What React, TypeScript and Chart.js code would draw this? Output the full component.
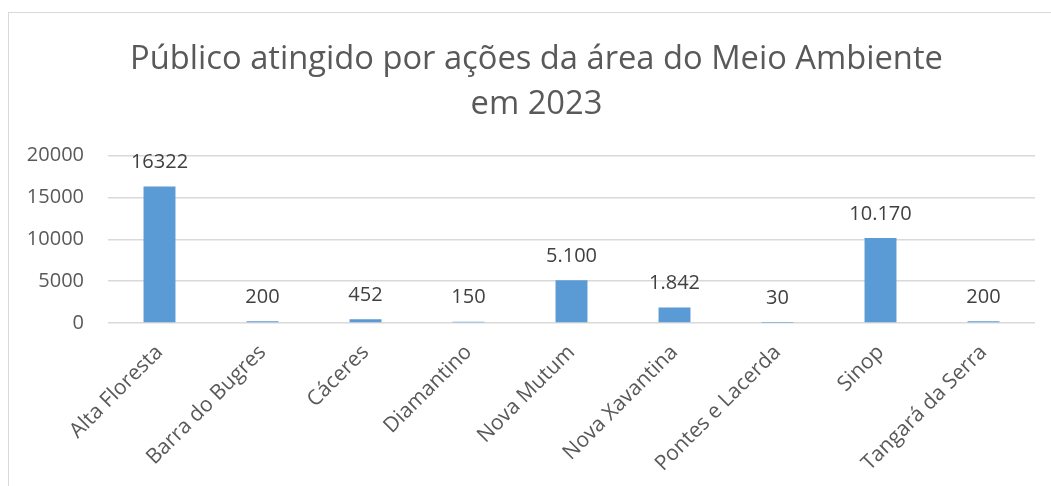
import React, { useEffect, useRef } from "react";
import { Chart, registerables } from "chart.js";

Chart.register(...registerables);

const titleLines = ["Público atingido por ações da área do Meio Ambiente", "em 2023"];
const categories = [
  "Alta Floresta",
  "Barra do Bugres",
  "Cáceres",
  "Diamantino",
  "Nova Mutum",
  "Nova Xavantina",
  "Pontes e Lacerda",
  "Sinop",
  "Tangará da Serra",
];
const values = [16322, 200, 452, 150, 5100, 1842, 30, 10170, 200];
const valueLabels = ["16322", "200", "452", "150", "5.100", "1.842", "30", "10.170", "200"];
const yMin = 0;
const yMax = 20000;
const yStep = 5000;

const FONT = "'Open Sans', sans-serif";

const dataLabelPlugin = {
  id: "dataLabels",
  afterLayout(chart: any) {
    // let the y tick labels extend into the left padding (no clipping)
    if (chart.scales.y) chart.scales.y.left = 0;
  },
  afterDatasetsDraw(chart: any) {
    const ctx = chart.ctx;
    const meta = chart.getDatasetMeta(0);
    ctx.save();
    ctx.font = `20px ${FONT}`;
    ctx.fillStyle = "#404040";
    ctx.textAlign = "center";
    ctx.textBaseline = "middle";
    meta.data.forEach((bar: any, i: number) => {
      ctx.fillText(valueLabels[i], bar.x, bar.y - 24);
    });
    ctx.restore();
  },
};

export default function App() {
  const ref = useRef<HTMLCanvasElement | null>(null);

  useEffect(() => {
    if (!ref.current) return;
    const chart = new Chart(ref.current, {
      type: "bar",
      data: {
        labels: categories,
        datasets: [
          {
            data: values,
            backgroundColor: "#5B9BD5",
            borderWidth: 0,
            categoryPercentage: 1,
            barPercentage: 0.31,
          },
        ],
      },
      options: {
        responsive: false,
        animation: false,
        layout: { padding: { left: 38, right: 16, top: 37, bottom: 0 } },
        plugins: {
          legend: { display: false },
          tooltip: { enabled: false },
          title: {
            display: true,
            text: titleLines,
            color: "#595959",
            font: { family: FONT, size: 32.7, weight: "normal", lineHeight: 1.37 },
            padding: { top: 0, bottom: 29 },
          },
        },
        scales: {
          x: {
            grid: { display: false },
            border: { display: false },
            ticks: {
              color: "#595959",
              font: { family: FONT, size: 21 },
              minRotation: 45,
              maxRotation: 45,
              autoSkip: false,
              padding: 9,
            },
            afterFit(scale: any) {
              scale.height = 163;
            },
          },
          y: {
            min: yMin,
            max: yMax,
            grid: { color: "#d9d9d9", lineWidth: 1.5, drawTicks: false },
            border: { display: false },
            ticks: {
              stepSize: yStep,
              color: "#595959",
              font: { family: FONT, size: 20 },
              padding: 24,
              callback: (v: any) => String(v),
            },
            afterFit(scale: any) {
              scale.width = 70;
            },
          },
        },
      },
      plugins: [dataLabelPlugin],
    });
    return () => chart.destroy();
  }, []);

  return (
    <div
      style={{
        position: "fixed",
        left: 0,
        top: 0,
        width: 1051,
        height: 486,
        background: "#fff",
        overflow: "hidden",
      }}
    >
      <div
        style={{
          position: "absolute",
          left: 8,
          top: 12,
          width: 1100,
          height: 600,
          border: "1.5px solid #d9d9d9",
        }}
      />
      <canvas
        ref={ref}
        width={1051}
        height={486}
        style={{ position: "absolute", left: 0, top: 0 }}
      />
    </div>
  );
}
